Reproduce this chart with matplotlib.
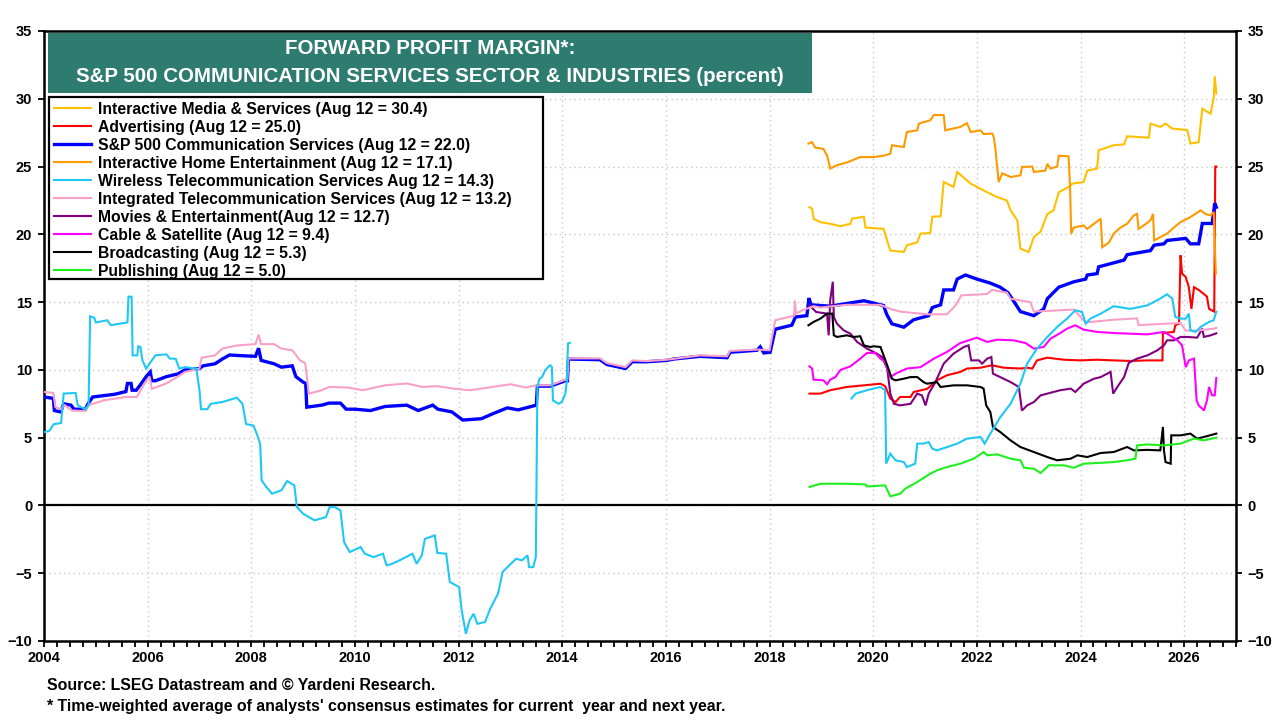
import numpy as np
import matplotlib
matplotlib.use('Agg')
import matplotlib.pyplot as plt
from matplotlib.patches import Rectangle
from matplotlib.ticker import MultipleLocator, FixedLocator

# ---------------- data (year, percent) ----------------
interactive_media = [(2018.77, 22.0), (2018.82, 21.9), (2018.85, 21.15), (2018.98, 20.9), (2019.17, 20.78),
    (2019.37, 20.6), (2019.56, 20.78), (2019.59, 21.15), (2019.82, 21.3), (2019.85, 20.5), (2020.2, 20.4),
    (2020.33, 18.8), (2020.59, 18.7), (2020.65, 19.2), (2020.85, 19.4), (2020.91, 20.05), (2021.1, 20.1),
    (2021.14, 21.3), (2021.3, 21.33), (2021.36, 23.86), (2021.55, 23.5), (2021.62, 24.6), (2021.88, 23.74),
    (2022.0, 23.5), (2022.2, 23.1), (2022.39, 22.75), (2022.58, 22.5), (2022.65, 21.77), (2022.78, 21.03),
    (2022.84, 18.94), (2023.0, 18.7), (2023.1, 19.8), (2023.23, 20.2), (2023.36, 21.5), (2023.48, 21.77),
    (2023.58, 23.1), (2023.77, 23.5), (2023.84, 23.74), (2024.06, 23.86), (2024.13, 24.7), (2024.32, 24.85),
    (2024.35, 26.2), (2024.64, 26.57), (2024.84, 26.64), (2024.9, 27.23), (2025.32, 27.13), (2025.35, 28.17),
    (2025.54, 27.92), (2025.64, 28.17), (2025.77, 27.8), (2026.06, 27.7), (2026.12, 26.7), (2026.28, 26.8),
    (2026.35, 29.27), (2026.51, 28.9), (2026.57, 30.1), (2026.59, 31.66), (2026.62, 30.4)]

advertising = [(2018.77, 8.25), (2018.98, 8.25), (2019.17, 8.5), (2019.49, 8.74), (2019.82, 8.86),
    (2020.14, 8.98), (2020.23, 8.8), (2020.33, 7.88), (2020.43, 7.63), (2020.52, 8.0), (2020.72, 8.0),
    (2020.78, 8.37), (2021.04, 8.6), (2021.23, 9.23), (2021.42, 9.6), (2021.68, 9.85), (2021.81, 10.1),
    (2022.07, 10.16), (2022.29, 10.34), (2022.52, 10.16), (2022.84, 10.1), (2022.97, 10.16), (2023.07, 10.1),
    (2023.16, 10.7), (2023.36, 10.9), (2023.68, 10.75), (2024.0, 10.7), (2024.32, 10.75), (2024.64, 10.7),
    (2024.96, 10.66), (2025.29, 10.7), (2025.58, 10.7), (2025.59, 12.72), (2025.8, 12.8), (2025.83, 13.3),
    (2025.9, 13.41), (2025.93, 18.45), (2025.96, 17.1), (2026.03, 16.85), (2026.09, 16.1), (2026.14, 14.5),
    (2026.19, 16.1), (2026.28, 15.9), (2026.38, 15.6), (2026.44, 15.4), (2026.48, 14.5), (2026.58, 14.3),
    (2026.6, 25.0), (2026.62, 25.0)]

sp500_comm = [(2004.0, 8.0), (2004.18, 7.9), (2004.2, 7.0), (2004.32, 6.9), (2004.38, 7.5), (2004.52, 7.4),
    (2004.58, 7.1), (2004.8, 7.1), (2004.85, 7.5), (2004.94, 8.0), (2005.15, 8.1), (2005.36, 8.2),
    (2005.58, 8.4), (2005.61, 9.0), (2005.68, 9.0), (2005.7, 8.5), (2005.78, 8.5), (2005.86, 8.9),
    (2005.97, 9.5), (2006.05, 9.85), (2006.08, 9.2), (2006.15, 9.2), (2006.36, 9.5), (2006.58, 9.7),
    (2006.72, 10.0), (2007.0, 10.1), (2007.07, 10.3), (2007.3, 10.45), (2007.44, 10.8), (2007.58, 11.1),
    (2007.8, 11.05), (2008.08, 11.0), (2008.14, 11.6), (2008.19, 10.7), (2008.44, 10.45), (2008.58, 10.2),
    (2008.79, 10.3), (2008.86, 9.5), (2009.0, 9.1), (2009.05, 9.0), (2009.07, 7.25), (2009.36, 7.4),
    (2009.5, 7.55), (2009.72, 7.55), (2009.83, 7.1), (2010.0, 7.1), (2010.3, 7.0), (2010.58, 7.3),
    (2011.0, 7.4), (2011.22, 7.0), (2011.5, 7.4), (2011.6, 7.1), (2011.87, 6.9), (2012.08, 6.3),
    (2012.44, 6.4), (2012.65, 6.75), (2012.94, 7.2), (2013.15, 7.05), (2013.3, 7.2), (2013.5, 7.4),
    (2013.52, 8.8), (2013.77, 8.8), (2014.06, 9.2), (2014.1, 9.2), (2014.12, 10.8), (2014.73, 10.75),
    (2014.86, 10.4), (2015.22, 10.1), (2015.35, 10.6), (2015.63, 10.6), (2016.02, 10.7), (2016.15, 10.8),
    (2016.66, 11.0), (2017.18, 10.9), (2017.24, 11.3), (2017.76, 11.45), (2017.82, 11.7), (2017.89, 11.25),
    (2018.01, 11.3), (2018.11, 13.0), (2018.43, 13.3), (2018.5, 13.9), (2018.72, 14.0), (2018.76, 15.3),
    (2018.8, 14.8), (2019.17, 14.7), (2019.49, 14.9), (2019.82, 15.1), (2020.2, 14.75), (2020.26, 14.1),
    (2020.36, 13.4), (2020.59, 13.15), (2020.78, 13.7), (2021.07, 14.0), (2021.14, 14.6), (2021.3, 14.8),
    (2021.36, 15.9), (2021.55, 15.9), (2021.62, 16.7), (2021.78, 17.0), (2022.0, 16.7), (2022.26, 16.4),
    (2022.45, 16.1), (2022.6, 15.7), (2022.68, 15.25), (2022.84, 14.3), (2023.1, 14.0), (2023.29, 14.5),
    (2023.36, 15.25), (2023.58, 16.1), (2023.87, 16.5), (2024.1, 16.7), (2024.13, 17.0), (2024.32, 17.1),
    (2024.35, 17.6), (2024.64, 17.9), (2024.84, 18.1), (2024.9, 18.5), (2025.35, 18.8), (2025.42, 19.2),
    (2025.61, 19.3), (2025.67, 19.55), (2026.03, 19.7), (2026.12, 19.3), (2026.28, 19.3), (2026.35, 20.8),
    (2026.54, 20.8), (2026.59, 22.3), (2026.62, 22.0)]

interactive_home_ent = [(2018.75, 26.69), (2018.82, 26.8), (2018.88, 26.4), (2019.04, 26.3), (2019.11, 25.8),
    (2019.17, 24.85), (2019.3, 25.1), (2019.49, 25.3), (2019.75, 25.7), (2020.01, 25.7), (2020.2, 25.8),
    (2020.33, 25.95), (2020.36, 26.57), (2020.59, 26.44), (2020.65, 27.55), (2020.85, 27.67), (2020.88, 28.17),
    (2021.1, 28.41), (2021.17, 28.8), (2021.36, 28.8), (2021.39, 27.67), (2021.68, 27.92), (2021.81, 28.2),
    (2021.88, 27.55), (2022.07, 27.67), (2022.13, 27.4), (2022.3, 27.43), (2022.33, 27.1), (2022.36, 26.2),
    (2022.42, 23.86), (2022.49, 24.5), (2022.65, 24.23), (2022.84, 24.35), (2022.87, 24.97), (2023.07, 25.0),
    (2023.1, 24.6), (2023.32, 24.7), (2023.36, 25.2), (2023.42, 24.85), (2023.55, 25.0), (2023.58, 25.8),
    (2023.77, 25.75), (2023.8, 23.25), (2023.82, 20.05), (2023.87, 20.5), (2024.06, 20.66), (2024.13, 20.4),
    (2024.26, 20.78), (2024.39, 21.15), (2024.42, 19.05), (2024.55, 19.4), (2024.64, 20.05), (2024.77, 20.5),
    (2024.9, 20.78), (2025.03, 21.4), (2025.09, 21.5), (2025.12, 20.4), (2025.22, 20.66), (2025.35, 21.03),
    (2025.4, 21.5), (2025.42, 19.55), (2025.54, 19.8), (2025.67, 20.05), (2025.8, 20.5), (2025.93, 20.9),
    (2026.12, 21.27), (2026.32, 21.77), (2026.41, 21.5), (2026.51, 21.4), (2026.57, 21.65), (2026.61, 17.1)]

wireless_telecom_a = [(2004.0, 5.4), (2004.1, 5.5), (2004.19, 6.0), (2004.33, 6.08), (2004.38, 8.25),
    (2004.61, 8.3), (2004.65, 7.4), (2004.79, 7.1), (2004.86, 7.4), (2004.89, 13.95), (2004.97, 13.85),
    (2005.0, 13.5), (2005.22, 13.66), (2005.29, 13.3), (2005.61, 13.5), (2005.63, 15.4), (2005.69, 15.4),
    (2005.71, 11.07), (2005.8, 11.07), (2005.82, 11.74), (2005.86, 11.7), (2005.9, 10.7), (2005.97, 10.1),
    (2006.08, 10.7), (2006.15, 11.07), (2006.36, 11.15), (2006.43, 10.83), (2006.54, 10.83), (2006.61, 10.1),
    (2006.72, 10.2), (2006.94, 10.1), (2007.0, 8.5), (2007.03, 7.1), (2007.15, 7.1), (2007.22, 7.5),
    (2007.44, 7.63), (2007.72, 7.95), (2007.83, 7.5), (2007.9, 6.0), (2008.04, 5.9), (2008.11, 5.24),
    (2008.17, 4.56), (2008.2, 1.85), (2008.29, 1.36), (2008.4, 0.87), (2008.58, 1.11), (2008.69, 1.8),
    (2008.83, 1.48), (2008.88, -0.12), (2009.0, -0.61), (2009.22, -1.1), (2009.44, -0.86), (2009.51, -0.12),
    (2009.61, -0.12), (2009.72, -0.37), (2009.79, -2.7), (2009.9, -3.44), (2010.11, -3.07), (2010.19, -3.56),
    (2010.36, -3.81), (2010.54, -3.56), (2010.61, -4.42), (2010.72, -4.3), (2010.86, -4.05), (2011.11, -3.56),
    (2011.19, -4.3), (2011.29, -3.69), (2011.35, -2.46), (2011.54, -2.21), (2011.59, -3.5), (2011.76, -3.56),
    (2011.83, -5.65), (2012.01, -6.02), (2012.06, -7.74), (2012.14, -9.47), (2012.21, -8.48), (2012.29, -7.99),
    (2012.36, -8.73), (2012.51, -8.6), (2012.61, -7.62), (2012.76, -6.51), (2012.85, -4.9), (2013.01, -4.3),
    (2013.11, -3.93), (2013.22, -4.05), (2013.33, -3.69), (2013.36, -4.55), (2013.44, -4.55), (2013.49, -3.81),
    (2013.52, 8.74), (2013.56, 9.35), (2013.61, 9.47), (2013.67, 9.97), (2013.74, 10.26), (2013.77, 10.34),
    (2013.8, 10.2), (2013.82, 7.75), (2013.93, 7.5), (2013.99, 7.63), (2014.06, 8.25), (2014.09, 9.23),
    (2014.11, 11.94), (2014.15, 12.0)]

wireless_telecom_b = [(2019.58, 7.88), (2019.66, 8.25), (2019.88, 8.5), (2020.14, 8.74), (2020.23, 8.5),
    (2020.25, 3.08), (2020.33, 3.82), (2020.43, 3.33), (2020.59, 3.2), (2020.65, 2.83), (2020.81, 3.08),
    (2020.85, 4.56), (2020.97, 4.56), (2021.07, 4.68), (2021.14, 4.19), (2021.23, 4.06), (2021.42, 4.3),
    (2021.62, 4.56), (2021.81, 4.93), (2022.07, 5.05), (2022.15, 4.56), (2022.26, 5.3), (2022.45, 6.5),
    (2022.65, 7.5), (2022.84, 8.98), (2022.97, 10.46), (2023.16, 11.57), (2023.36, 12.43), (2023.55, 13.17),
    (2023.74, 13.78), (2023.9, 14.4), (2024.03, 14.27), (2024.1, 13.41), (2024.19, 13.78), (2024.39, 14.15),
    (2024.64, 14.7), (2024.96, 14.5), (2025.29, 14.76), (2025.54, 15.26), (2025.67, 15.58), (2025.77, 15.26),
    (2025.83, 13.9), (2025.93, 13.78), (2026.03, 13.78), (2026.09, 14.15), (2026.12, 12.92), (2026.22, 12.8),
    (2026.32, 13.17), (2026.48, 13.54), (2026.57, 13.66), (2026.62, 14.3)]

integrated_telecom = [(2004.0, 8.37), (2004.18, 8.3), (2004.22, 7.26), (2004.32, 7.1), (2004.4, 7.4),
    (2004.54, 7.0), (2004.79, 6.97), (2004.86, 7.4), (2005.15, 7.75), (2005.58, 8.0), (2005.79, 8.0),
    (2005.94, 9.0), (2006.04, 9.5), (2006.08, 8.6), (2006.36, 9.0), (2006.58, 9.5), (2006.72, 9.85),
    (2007.0, 10.1), (2007.04, 10.9), (2007.3, 11.07), (2007.44, 11.57), (2007.72, 11.8), (2008.08, 11.9),
    (2008.14, 12.6), (2008.19, 11.9), (2008.44, 11.9), (2008.58, 11.57), (2008.79, 11.45), (2008.94, 10.7),
    (2009.04, 10.5), (2009.11, 8.25), (2009.36, 8.5), (2009.5, 8.74), (2009.86, 8.7), (2010.15, 8.5),
    (2010.58, 8.86), (2011.0, 9.0), (2011.3, 8.74), (2011.58, 8.8), (2011.94, 8.6), (2012.22, 8.5),
    (2012.65, 8.74), (2013.0, 8.94), (2013.3, 8.7), (2013.5, 8.86), (2013.77, 8.86), (2014.06, 9.28),
    (2014.1, 9.3), (2014.12, 10.85), (2014.73, 10.85), (2014.86, 10.5), (2015.22, 10.2), (2015.35, 10.7),
    (2015.63, 10.65), (2016.02, 10.75), (2016.66, 11.07), (2017.18, 11.0), (2017.24, 11.4), (2017.76, 11.5),
    (2018.0, 11.45), (2018.11, 13.66), (2018.47, 14.0), (2018.49, 15.1), (2018.51, 14.15), (2018.63, 14.4),
    (2018.85, 14.7), (2018.98, 14.6), (2019.49, 14.8), (2020.14, 14.8), (2020.33, 14.5), (2020.52, 14.3),
    (2021.04, 14.1), (2021.42, 14.1), (2021.5, 14.4), (2021.59, 14.76), (2021.7, 15.5), (2022.2, 15.6),
    (2022.29, 15.9), (2022.58, 15.7), (2022.65, 15.25), (2023.03, 15.0), (2023.1, 14.3), (2023.87, 14.45),
    (2024.1, 13.5), (2024.64, 13.7), (2025.09, 13.8), (2025.12, 13.3), (2025.61, 13.4), (2025.93, 13.46),
    (2026.03, 12.9), (2026.25, 12.9), (2026.57, 13.04), (2026.62, 13.1)]

movies_ent = [(2018.77, 14.76), (2018.9, 14.27), (2019.11, 14.15), (2019.14, 12.55), (2019.17, 15.13),
    (2019.22, 16.5), (2019.24, 13.9), (2019.3, 13.41), (2019.43, 12.92), (2019.56, 12.67), (2019.69, 12.06),
    (2019.88, 11.57), (2020.07, 11.2), (2020.17, 10.95), (2020.27, 10.1), (2020.33, 8.25), (2020.4, 7.5),
    (2020.52, 7.38), (2020.72, 7.5), (2020.85, 8.25), (2020.94, 8.12), (2021.01, 7.38), (2021.07, 8.25),
    (2021.2, 9.1), (2021.36, 10.46), (2021.55, 11.2), (2021.75, 11.69), (2021.84, 11.81), (2021.89, 10.7),
    (2022.04, 10.7), (2022.1, 10.46), (2022.2, 10.83), (2022.28, 10.95), (2022.31, 9.72), (2022.45, 9.47),
    (2022.65, 9.1), (2022.81, 8.74), (2022.87, 7.0), (2022.97, 7.38), (2023.1, 7.63), (2023.23, 8.12),
    (2023.36, 8.25), (2023.61, 8.5), (2023.81, 8.62), (2023.9, 8.37), (2024.06, 8.98), (2024.26, 9.35),
    (2024.39, 9.47), (2024.58, 9.85), (2024.63, 8.25), (2024.71, 8.74), (2024.84, 9.47), (2024.93, 10.51),
    (2025.09, 10.83), (2025.29, 11.07), (2025.48, 11.44), (2025.61, 11.81), (2025.67, 12.18), (2025.8, 12.18),
    (2025.93, 12.43), (2026.06, 12.43), (2026.25, 12.38), (2026.35, 13.04), (2026.38, 12.43), (2026.51, 12.55),
    (2026.62, 12.7)]

cable_satellite = [(2018.77, 10.26), (2018.82, 10.1), (2018.85, 9.28), (2019.04, 9.23), (2019.11, 8.94),
    (2019.17, 9.28), (2019.27, 9.47), (2019.37, 10.0), (2019.56, 10.26), (2019.75, 10.83), (2019.88, 11.25),
    (2020.04, 11.25), (2020.14, 10.83), (2020.23, 10.58), (2020.33, 9.47), (2020.43, 9.72), (2020.65, 10.1),
    (2020.91, 10.2), (2021.17, 10.83), (2021.42, 11.32), (2021.68, 11.98), (2021.94, 12.3), (2022.0, 12.38),
    (2022.2, 12.06), (2022.39, 12.23), (2022.71, 12.18), (2022.94, 11.98), (2023.1, 11.57), (2023.29, 11.69),
    (2023.42, 12.3), (2023.61, 12.72), (2023.74, 13.04), (2023.9, 13.29), (2024.06, 12.97), (2024.32, 12.8),
    (2024.64, 12.72), (2024.96, 12.67), (2025.29, 12.62), (2025.61, 12.8), (2025.77, 12.43), (2025.87, 12.18),
    (2025.96, 11.81), (2026.03, 10.2), (2026.09, 10.7), (2026.19, 10.83), (2026.24, 7.75), (2026.28, 7.38),
    (2026.35, 7.14), (2026.38, 7.0), (2026.44, 7.75), (2026.48, 8.74), (2026.54, 8.12), (2026.59, 8.12),
    (2026.62, 9.4)]

broadcasting = [(2018.75, 13.29), (2018.85, 13.54), (2018.98, 13.78), (2019.11, 14.15), (2019.21, 14.15),
    (2019.24, 12.55), (2019.3, 12.43), (2019.49, 12.55), (2019.62, 12.43), (2019.75, 12.48), (2019.82, 11.81),
    (2019.94, 11.69), (2020.01, 11.74), (2020.14, 11.69), (2020.2, 11.07), (2020.27, 10.34), (2020.36, 9.35),
    (2020.43, 9.23), (2020.59, 9.35), (2020.72, 9.47), (2020.85, 9.47), (2020.97, 9.1), (2021.04, 8.98),
    (2021.23, 9.1), (2021.3, 8.74), (2021.55, 8.86), (2021.81, 8.86), (2022.07, 8.74), (2022.13, 8.62),
    (2022.18, 7.38), (2022.26, 6.89), (2022.31, 5.79), (2022.45, 5.42), (2022.65, 4.8), (2022.84, 4.31),
    (2023.1, 3.94), (2023.36, 3.57), (2023.55, 3.33), (2023.81, 3.45), (2023.94, 3.7), (2024.13, 3.57),
    (2024.39, 3.87), (2024.64, 3.94), (2024.9, 4.31), (2025.03, 4.06), (2025.29, 4.1), (2025.54, 4.06),
    (2025.59, 5.79), (2025.61, 4.06), (2025.64, 3.2), (2025.74, 3.08), (2025.75, 5.17), (2025.93, 5.17),
    (2026.12, 5.3), (2026.25, 4.93), (2026.38, 5.05), (2026.62, 5.3)]

publishing = [(2018.77, 1.36), (2018.98, 1.6), (2019.49, 1.6), (2019.85, 1.55), (2019.88, 1.4), (2020.23, 1.48),
    (2020.33, 0.67), (2020.52, 0.87), (2020.62, 1.24), (2020.85, 1.73), (2021.1, 2.34), (2021.23, 2.59),
    (2021.42, 2.83), (2021.68, 3.08), (2021.94, 3.45), (2022.13, 3.94), (2022.2, 3.7), (2022.39, 3.77),
    (2022.65, 3.45), (2022.84, 3.33), (2022.91, 2.78), (2023.1, 2.71), (2023.23, 2.39), (2023.39, 2.96),
    (2023.68, 2.96), (2023.87, 2.78), (2024.06, 3.08), (2024.32, 3.13), (2024.64, 3.2), (2024.9, 3.33),
    (2025.06, 3.45), (2025.09, 4.43), (2025.29, 4.5), (2025.61, 4.43), (2025.93, 4.56), (2026.19, 4.93),
    (2026.38, 4.8), (2026.62, 5.0)]

legend_labels = [
    "Interactive Media & Services (Aug 12 = 30.4)",
    "Advertising (Aug 12 = 25.0)",
    "S&P 500 Communication Services (Aug 12 = 22.0)",
    "Interactive Home Entertainment (Aug 12 = 17.1)",
    "Wireless Telecommunication Services Aug 12 = 14.3)",
    "Integrated Telecommunication Services (Aug 12 = 13.2)",
    "Movies & Entertainment(Aug 12 = 12.7)",
    "Cable & Satellite (Aug 12 = 9.4)",
    "Broadcasting (Aug 12 = 5.3)",
    "Publishing (Aug 12 = 5.0)",
]
title_lines = ["FORWARD PROFIT MARGIN*:", "S&P 500 COMMUNICATION SERVICES SECTOR & INDUSTRIES (percent)"]
source_note = "Source: LSEG Datastream and \u00a9 Yardeni Research."
footnote = "* Time-weighted average of analysts' consensus estimates for current  year and next year."
x_ticks = list(range(2004, 2027, 2))
y_ticks = list(range(-10, 36, 5))

# ---------------- fonts ----------------
FONT = ['Liberation Sans', 'DejaVu Sans']

W, H = 1280, 720
fig = plt.figure(figsize=(W / 100, H / 100), dpi=100)
fig.patch.set_facecolor('white')
ax = fig.add_axes([44 / W, 1 - 641 / H, (1236 - 44) / W, (641 - 31) / H])

def draw(series, color, lw, label, z):
    xs = [p[0] for p in series]
    ys = [p[1] for p in series]
    return ax.plot(xs, ys, color=color, lw=lw, label=label, zorder=z, solid_joinstyle='miter')[0]

h_ims = draw(interactive_media, '#FFC000', 1.5, legend_labels[0], 3)
h_adv = draw(advertising, '#FF0000', 1.5, legend_labels[1], 3)
h_sp = draw(sp500_comm, '#0000FF', 2.4, legend_labels[2], 3)
h_ihe = draw(interactive_home_ent, '#FF9900', 1.5, legend_labels[3], 3)
h_wl = draw(wireless_telecom_a, '#1EC8F5', 1.5, legend_labels[4], 3.2)
draw(wireless_telecom_b, '#1EC8F5', 1.5, None, 3.2)
h_it = draw(integrated_telecom, '#F8A0C8', 1.5, legend_labels[5], 3.1)
h_mv = draw(movies_ent, '#800080', 1.5, legend_labels[6], 3)
h_cs = draw(cable_satellite, '#FF00FF', 1.5, legend_labels[7], 3)
h_bc = draw(broadcasting, '#000000', 1.5, legend_labels[8], 3)
h_pb = draw(publishing, '#1EF01E', 1.5, legend_labels[9], 3)

ax.axhline(0, color='black', lw=1.6, zorder=2)

ax.set_xlim(2004, 2027)
ax.set_ylim(-10, 35)
ax.xaxis.set_major_locator(FixedLocator(x_ticks))
ax.xaxis.set_minor_locator(MultipleLocator(0.25))
ax.yaxis.set_major_locator(FixedLocator(y_ticks))
ax.grid(True, which='major', color='#C8C8C8', linestyle=(0, (1, 2.5)), linewidth=1.0, zorder=0)
ax.set_axisbelow(True)

for s in ax.spines.values():
    s.set_linewidth(1.8)
    s.set_color('black')

ax.tick_params(axis='x', which='both', direction='out', length=4, width=1.3, pad=3,
               labelsize=10.5, top=False)
ax.tick_params(axis='y', which='major', direction='out', length=4.5, width=1.3, pad=4,
               labelsize=10.5, left=True, right=True, labelleft=True, labelright=True)
for t in ax.xaxis.get_major_ticks() + ax.yaxis.get_major_ticks():
    for lab in (t.label1, t.label2):
        lab.set_fontfamily(FONT)
        lab.set_fontweight('bold')

# title box
ax.add_patch(Rectangle((48 / W, 1 - 93 / H), (812 - 48) / W, 60 / H, transform=fig.transFigure,
                       facecolor='#2E7B6F', edgecolor='none', zorder=6, clip_on=False))
ax.text(430 / W, 1 - 48 / H, title_lines[0], transform=fig.transFigure, ha='center', va='center',
        color='white', fontsize=14.8, fontweight='bold', family=FONT, zorder=7)
ax.text(430 / W, 1 - 76 / H, title_lines[1], transform=fig.transFigure, ha='center', va='center',
        color='white', fontsize=14.8, fontweight='bold', family=FONT, zorder=7)

# legend frame (drawn separately to match the wide box)
ax.add_patch(Rectangle((49 / W, 1 - 279 / H), (543 - 49) / W, (279 - 97) / H, transform=fig.transFigure,
                       facecolor='white', edgecolor='black', linewidth=1.6, zorder=7, clip_on=False))
handles = [h_ims, h_adv, h_sp, h_ihe, h_wl, h_it, h_mv, h_cs, h_bc, h_pb]
leg = ax.legend(handles=handles, labels=legend_labels, loc='upper left',
                bbox_to_anchor=(49 / W, 1 - 97 / H), bbox_transform=fig.transFigure,
                borderaxespad=0, borderpad=0.3, handlelength=2.4, handletextpad=0.4,
                labelspacing=0.19, frameon=False,
                prop={'family': FONT, 'weight': 'bold', 'size': 11.3})
leg.set_zorder(8)

fig.text(47 / W, 1 - 685 / H, source_note, ha='left', va='center', fontsize=11.4,
         fontweight='bold', family=FONT)
fig.text(47 / W, 1 - 706 / H, footnote, ha='left', va='center', fontsize=11.4,
         fontweight='bold', family=FONT)

fig.savefig('out.png', dpi=100)
